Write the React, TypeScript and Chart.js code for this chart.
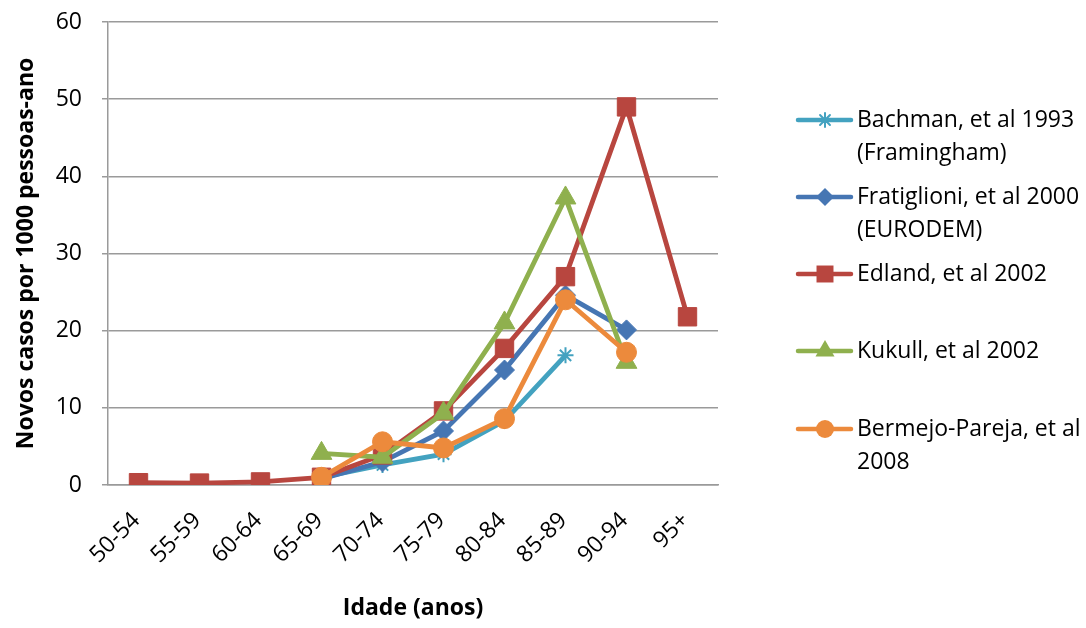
import { useEffect, useRef } from 'react';
import { Chart, registerables } from 'chart.js';

Chart.register(...registerables);

// Incidence of new cases per 1000 person-years by age group
const ageGroups = ['50-54', '55-59', '60-64', '65-69', '70-74', '75-79', '80-84', '85-89', '90-94', '95+'];
const bachman = [null, null, null, 1.0, 2.6, 4.0, 8.3, 16.8, null, null];
const fratiglioni = [null, null, null, 0.8, 3.0, 7.0, 14.9, 24.6, 20.1, null];
const edland = [0.3, 0.25, 0.4, 1.0, 3.9, 9.6, 17.7, 27.0, 49.0, 21.8];
const kukull = [null, null, null, 4.1, 3.6, 9.3, 21.0, 37.2, 15.9, null];
const bermejo = [null, null, null, 1.0, 5.6, 4.8, 8.6, 24.0, 17.2, null];
const yTicks = [0, 10, 20, 30, 40, 50, 60];

const seriesLabels = [
  ['Bachman, et al 1993', '(Framingham)'],
  ['Fratiglioni, et al 2000', '(EURODEM)'],
  ['Edland, et al 2002'],
  ['Kukull, et al 2002'],
  ['Bermejo-Pareja, et al', '2008'],
];

const FONT = '"Open Sans", Lato, sans-serif';
const FONT_SIZE = 23;
const GRID = '#9a9a9a';

const COLORS = ['#43A2C0', '#4676B3', '#B8463F', '#8FB04E', '#EC8A3C'];
const STYLES = ['star', 'rectRot', 'rect', 'triangle', 'circle'];
const RADII = [8, 10, 13, 12, 10];

function drawMarker(ctx: CanvasRenderingContext2D, style: string, x: number, y: number, r: number, color: string) {
  ctx.save();
  ctx.fillStyle = color;
  ctx.strokeStyle = color;
  ctx.lineWidth = 1;
  ctx.beginPath();
  if (style === 'circle') {
    ctx.arc(x, y, r, 0, Math.PI * 2);
    ctx.fill();
  } else if (style === 'rect') {
    const s = Math.SQRT1_2 * r;
    ctx.rect(x - s, y - s, 2 * s, 2 * s);
    ctx.fill();
  } else if (style === 'rectRot') {
    ctx.moveTo(x - r, y);
    ctx.lineTo(x, y - r);
    ctx.lineTo(x + r, y);
    ctx.lineTo(x, y + r);
    ctx.closePath();
    ctx.fill();
  } else if (style === 'triangle') {
    for (let i = 0; i < 3; i++) {
      const a = -Math.PI / 2 + (i * 2 * Math.PI) / 3;
      const px = x + Math.cos(a) * r;
      const py = y + Math.sin(a) * r;
      if (i === 0) ctx.moveTo(px, py);
      else ctx.lineTo(px, py);
    }
    ctx.closePath();
    ctx.fill();
  } else if (style === 'star') {
    ctx.lineWidth = 2;
    for (let i = 0; i < 4; i++) {
      const a = (i * Math.PI) / 4;
      ctx.moveTo(x - Math.cos(a) * r, y - Math.sin(a) * r);
      ctx.lineTo(x + Math.cos(a) * r, y + Math.sin(a) * r);
    }
    ctx.stroke();
  }
  ctx.restore();
}

const sideLegend = {
  id: 'sideLegend',
  afterDraw(chart: Chart) {
    const ctx = chart.ctx;
    const rows = [120, 197, 274, 351, 429];
    ctx.save();
    ctx.font = `${FONT_SIZE}px ${FONT}`;
    ctx.textBaseline = 'middle';
    ctx.textAlign = 'left';
    seriesLabels.forEach((lines, i) => {
      const y = rows[i];
      ctx.strokeStyle = COLORS[i];
      ctx.lineWidth = 4.5;
      ctx.lineCap = 'round';
      ctx.beginPath();
      ctx.moveTo(798, y);
      ctx.lineTo(851, y);
      ctx.stroke();
      drawMarker(ctx, STYLES[i], 825, y, i === 2 ? 12 : RADII[i] - 1, COLORS[i]);
      ctx.fillStyle = '#000';
      lines.forEach((t, j) => ctx.fillText(t, 857, y + j * 33));
    });
    ctx.restore();
  },
};

export default function App() {
  const canvasRef = useRef<HTMLCanvasElement | null>(null);

  useEffect(() => {
    document.body.style.margin = '0';
    const canvas = canvasRef.current;
    if (!canvas) return;
    const series = [bachman, fratiglioni, edland, kukull, bermejo];
    const chart = new Chart(canvas, {
      type: 'line',
      data: {
        labels: ageGroups,
        datasets: series.map((values, i) => ({
          label: seriesLabels[i].join(' '),
          data: values,
          borderColor: COLORS[i],
          backgroundColor: COLORS[i],
          borderWidth: 4.8,
          pointStyle: STYLES[i] as any,
          pointRadius: RADII[i],
          pointBorderWidth: i === 0 ? 2 : 1,
          pointBackgroundColor: COLORS[i],
          pointBorderColor: COLORS[i],
          tension: 0,
          spanGaps: false,
          order: 5 - i,
        })),
      },
      options: {
        responsive: false,
        animation: false,
        layout: { padding: { top: 22, right: 368, bottom: 0, left: 0 } },
        plugins: {
          legend: { display: false },
          tooltip: { enabled: false },
        },
        scales: {
          x: {
            offset: true,
            grid: { display: false, drawTicks: false },
            border: { display: true, color: GRID, width: 1.5 },
            ticks: {
              minRotation: 45,
              maxRotation: 45,
              padding: 22,
              labelOffset: -2,
              color: '#000',
              font: { family: FONT, size: FONT_SIZE },
            },
            title: {
              display: true,
              text: 'Idade (anos)',
              color: '#000',
              font: { family: FONT, size: FONT_SIZE, weight: 'bold' },
              padding: { top: 0, bottom: 6 },
            },
            afterFit(scale: any) {
              scale.height = 143;
              scale.paddingLeft = 0;
              scale.paddingRight = 0;
            },
          },
          y: {
            min: 0,
            max: 60,
            afterBuildTicks(scale: any) {
              scale.ticks = yTicks.map((v) => ({ value: v }));
            },
            grid: { color: GRID, lineWidth: 1.5, tickLength: 6, drawTicks: true },
            border: { display: true, color: GRID, width: 1.5 },
            ticks: {
              padding: 20,
              color: '#000',
              font: { family: FONT, size: FONT_SIZE },
            },
            title: {
              display: true,
              text: 'Novos casos por 1000 pessoas-ano',
              color: '#000',
              font: { family: FONT, size: FONT_SIZE, weight: 'bold' },
              padding: { top: 13, bottom: 0 },
            },
            afterFit(scale: any) {
              scale.width = 108;
              scale.paddingTop = 0;
              scale.paddingBottom = 0;
            },
          },
        },
      },
      plugins: [sideLegend],
    });
    return () => chart.destroy();
  }, []);

  return <canvas ref={canvasRef} width={1086} height={628} style={{ display: 'block' }} />;
}
